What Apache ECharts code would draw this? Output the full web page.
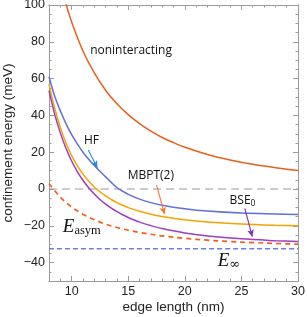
<!DOCTYPE html>
<html><head><meta charset="utf-8">
<script src="https://cdn.jsdelivr.net/npm/echarts@6/dist/echarts.min.js"></script>
<style>html,body{margin:0;padding:0;background:#fff}#c{width:307px;height:317px}</style>
</head><body><div id="c"></div>
<script>
// ---- data ----
const edgeLength = [8, 8.5, 9, 9.5, 10, 10.5, 11, 11.5, 12, 12.5, 13, 13.5, 14, 14.5, 15, 16, 17, 18, 20, 22, 25, 28, 30];
const hfValues   = [61, 50.5, 42.5, 35.5, 29.5, 24.5, 20, 16.2, 12.8, 9.6, 6.6, 3.6, 0.8, -1.2, -2.9, -5.5, -7.4, -8.8, -10.7, -12, -13.1, -13.6, -13.85];
const mbptValues = [57, 44.1, 33.5, 25, 18.2, 12.7, 8.1, 4.3, 1.1, -1.5, -3.8, -5.7, -7.4, -8.8, -10.1, -12.1, -13.7, -14.9, -16.7, -17.9, -19, -19.7, -20];
const bseValues  = [53.5, 40.7, 30.5, 22.1, 15.2, 9.5, 4.75, 0.7, -2.7, -5.7, -8.2, -10.4, -12.3, -14, -15.5, -18, -19.9, -21.5, -23.9, -25.5, -27.1, -28.1, -28.6];

const nonintLength = [9.5, 10, 11, 12, 13, 14, 15, 16, 17, 18, 19, 20, 22, 24, 26, 28, 30];
const nonintValues = [100.6, 90.8, 75.0, 63.1, 53.7, 46.3, 40.4, 35.5, 31.4, 28.0, 25.2, 22.7, 18.8, 15.8, 13.4, 11.6, 10.1];

const asymLength = [8, 9, 10, 11, 12, 13, 14, 15, 16, 17, 18, 20, 22, 24, 26, 28, 30];
const asymValues = [3, -4.4, -9.8, -13.7, -16.7, -19.1, -20.9, -22.4, -23.6, -24.6, -25.5, -26.8, -27.8, -28.6, -29.1, -29.6, -30.0];

const eInfinity = -32.5;
const zeroLevel = 0;

const xMajorTicks = [10, 15, 20, 25, 30];
const xMinorTicks = [8, 9, 11, 12, 13, 14, 16, 17, 18, 19, 21, 22, 23, 24, 26, 27, 28, 29];
const yMajorTicks = [-40, -20, 0, 20, 40, 60, 80, 100];
const yMinorTicks = [-50, -45, -35, -30, -25, -15, -10, -5, 5, 10, 15, 25, 30, 35, 45, 50, 55, 65, 70, 75, 85, 90, 95];

const xRange = [8, 30];
const yRange = [-50, 100];

// ---- chart ----
const pair = (xs, ys) => xs.map((x, i) => [x, ys[i]]);
const frame = '#9a9a9a';
const tickFont = {fontFamily: 'Liberation Sans', fontSize: 12.5, color: '#222'};
const minus = v => (v < 0 ? '\u2212' + Math.abs(v) : String(v));

function xAx(pos, ticks, len, labels) {
  return {type: 'value', position: pos, min: xRange[0], max: xRange[1],
    axisLine: {show: true, onZero: false, lineStyle: {color: frame, width: 1}},
    axisTick: {show: true, inside: true, length: len, customValues: ticks, lineStyle: {color: frame}},
    axisLabel: labels ? Object.assign({show: true, customValues: ticks, margin: 4, formatter: minus}, tickFont) : {show: false},
    splitLine: {show: false}};
}
function yAx(pos, ticks, len, labels) {
  return {type: 'value', position: pos, min: yRange[0], max: yRange[1],
    axisLine: {show: true, onZero: false, lineStyle: {color: frame, width: 1}},
    axisTick: {show: true, inside: true, length: len, customValues: ticks, lineStyle: {color: frame}},
    axisLabel: labels ? Object.assign({show: true, customValues: ticks, margin: 4, formatter: minus}, tickFont) : {show: false},
    splitLine: {show: false}};
}

const xAxes = [xAx('bottom', xMajorTicks, 5, true), xAx('bottom', xMinorTicks, 2.5, false),
               xAx('top', xMajorTicks, 5, false), xAx('top', xMinorTicks, 2.5, false)];
Object.assign(xAxes[0], {name: 'edge length (nm)', nameLocation: 'middle', nameGap: 19, nameMoveOverlap: false,
  nameTextStyle: {fontFamily: 'Liberation Sans', fontSize: 13.5, color: '#222'}});
const yAxes = [yAx('left', yMajorTicks, 5, true), yAx('left', yMinorTicks, 2.5, false),
               yAx('right', yMajorTicks, 5, false), yAx('right', yMinorTicks, 2.5, false)];
Object.assign(yAxes[0], {name: 'confinement energy (meV)', nameLocation: 'middle', nameGap: 33.5, nameMoveOverlap: false,
  nameTextStyle: {fontFamily: 'Liberation Sans', fontSize: 13.5, color: '#222'}});

const lineSeries = (name, data, color, width, dash) => ({
  name, type: 'line', data, symbol: 'none', smooth: 0.35, clip: true, silent: true,
  lineStyle: {color, width, type: dash || 'solid'}, z: 3});

const annFont = {fontFamily: 'Open Sans', fontSize: 12, color: '#111'};
const arrow = (from, to, color) => [
  {coord: from, symbol: 'none', lineStyle: {color, width: 1.1, type: 'solid'}},
  {coord: to, symbol: 'arrow', symbolSize: [5, 7]}];
const textPt = (coord, text, rich) => ({coord, symbolSize: 0,
  label: {show: true, formatter: text, rich: rich, position: [0, 0], align: 'center', verticalAlign: 'middle', ...annFont}});

const richE = {
  e: {fontFamily: 'Liberation Serif', fontStyle: 'italic', fontSize: 19, lineHeight: 20, color: '#111'},
  s: {fontFamily: 'Liberation Serif', fontSize: 12.5, lineHeight: 11, verticalAlign: 'bottom', color: '#111'},
  inf: {fontFamily: 'DejaVu Serif', fontSize: 13, lineHeight: 11, verticalAlign: 'bottom', color: '#111'},
  n: {fontFamily: 'Open Sans', fontSize: 12, lineHeight: 14, color: '#111'},
  sub: {fontFamily: 'Open Sans', fontSize: 8.5, lineHeight: 8, verticalAlign: 'bottom', color: '#111'}
};

const option = {
  animation: false,
  backgroundColor: '#fff',
  grid: {left: 49, right: 9, top: 5, bottom: 36, containLabel: false, outerBoundsMode: 'none'},
  xAxis: xAxes,
  yAxis: yAxes,
  series: [
    lineSeries('zero', [[xRange[0], zeroLevel], [xRange[1], zeroLevel]], '#999999', 1.2, [8, 5]),
    lineSeries('Einf', [[xRange[0], eInfinity], [xRange[1], eInfinity]], '#6a7fe0', 1.6, [5, 3]),
    lineSeries('Easym', pair(asymLength, asymValues), '#f0601c', 1.7, [5, 4]),
    lineSeries('noninteracting', pair(nonintLength, nonintValues), '#e8601c', 1.5),
    lineSeries('HF', pair(edgeLength, hfValues), '#6070d6', 1.5),
    lineSeries('MBPT(2)', pair(edgeLength, mbptValues), '#f5a300', 1.5),
    Object.assign(lineSeries('BSE0', pair(edgeLength, bseValues), '#a03cc0', 1.5), {
      markLine: {silent: true, symbol: ['none', 'arrow'], label: {show: false}, animation: false,
        data: [
          arrow([11.47, 21.2], [12.27, 11.6], '#1e8fe0'),
          arrow([17.5, 2.2], [18.2, -13.6], '#f07a3a'),
          arrow([25.3, -10.5], [25.96, -25.9], '#7d2fc0')
        ]},
      markPoint: {silent: true, animation: false, data: [
          textPt([15.25, 75.5], 'noninteracting'),
          textPt([11.75, 26.1], 'HF'),
          textPt([17.0, 7.1], 'MBPT(2)'),
          textPt([25.1, -6.5], '{n|BSE}{sub|0}', richE),
          textPt([10.9, -20.6], '{e|E}{s|asym}', richE),
          textPt([23.9, -39.0], '{e|E}{inf|∞}', richE)
        ]}
    })
  ]
};
const chart = echarts.init(document.getElementById('c'), null, {renderer: 'canvas'});
chart.setOption(option);
</script></body></html>
